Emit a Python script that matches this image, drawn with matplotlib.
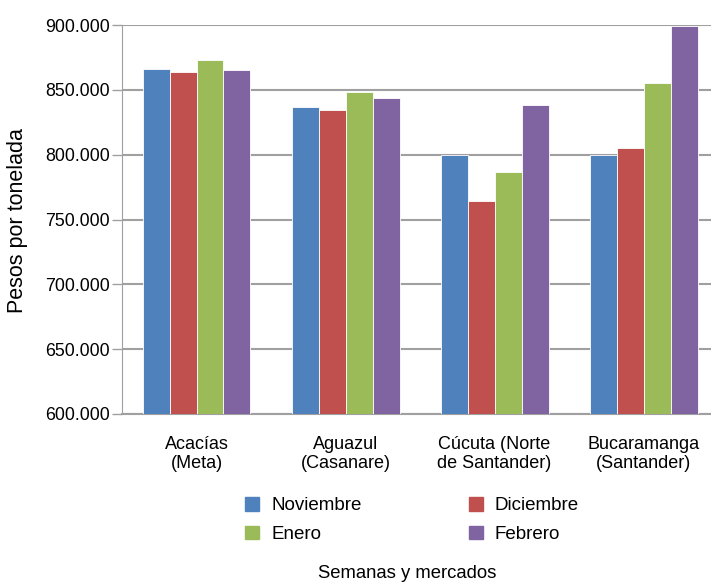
import matplotlib.pyplot as plt
import matplotlib.ticker as mticker
from matplotlib.patches import Patch
import numpy as np

plt.rcParams['font.family'] = ['Liberation Sans', 'DejaVu Sans']

# datos
mercados = ['Acacías\n(Meta)', 'Aguazul\n(Casanare)', 'Cúcuta (Norte\nde Santander)', 'Bucaramanga\n(Santander)']
meses = ['Noviembre', 'Diciembre', 'Enero', 'Febrero']
noviembre = [866000, 837000, 800000, 800000]
diciembre = [864000, 834500, 764500, 805000]
enero = [873000, 848500, 787000, 855500]
febrero = [865500, 843500, 838000, 899500]
colores = ['#4F81BD', '#C0504D', '#9BBB59', '#8064A2']

series = [noviembre, diciembre, enero, febrero]

fig = plt.figure(figsize=(7.11, 5.85), dpi=100)
ax = fig.add_axes([122 / 711, 1 - 414 / 585, 589 / 711, 389 / 585])

x = np.arange(len(mercados))
w = 0.181
for i, (vals, col) in enumerate(zip(series, colores)):
    ax.bar(x + (i - 1.5) * w, vals, width=w, color=col, edgecolor='white', linewidth=0.6, zorder=3)

ax.set_ylim(600000, 900000)
ax.set_xlim(-0.5, 3.452)
ax.yaxis.set_major_locator(mticker.MultipleLocator(50000))
ax.yaxis.set_major_formatter(mticker.FuncFormatter(lambda v, p: f"{int(v):,}".replace(',', '.')))
ax.grid(axis='y', color='#A0A0A0', linewidth=1.5, zorder=0)
ax.set_xticks(x)
ax.set_xticklabels(mercados, fontsize=13, linespacing=1.1)
ax.tick_params(axis='x', length=0, pad=16)
ax.tick_params(axis='y', labelsize=12.8, length=7, width=1, color='#A0A0A0', pad=2)

for s in ['top', 'right']:
    ax.spines[s].set_visible(False)
ax.spines['left'].set_color('#A0A0A0')
ax.spines['bottom'].set_color('#A0A0A0')
ax.spines['bottom'].set_linewidth(1.5)

fig.text(18 / 711, 1 - 221 / 585, 'Pesos por tonelada', rotation=90, ha='center', va='center', fontsize=15.5)
fig.text(407 / 711, 1 - 574 / 585, 'Semanas y mercados', ha='center', va='center', fontsize=13.3)

# orden por filas: Nov, Dic / Ene, Feb (matplotlib llena por columnas)
orden = [0, 2, 1, 3]
handles = [Patch(color=colores[i]) for i in orden]
labels = [meses[i] for i in orden]
fig.legend(handles, labels, ncol=2, frameon=False, fontsize=13.5,
           loc='center', bbox_to_anchor=(412 / 711, 1 - 520 / 585),
           handlelength=0.75, handleheight=0.75, handletextpad=0.64,
           columnspacing=5.7, labelspacing=0.6)

fig.savefig('out.png', dpi=100)
